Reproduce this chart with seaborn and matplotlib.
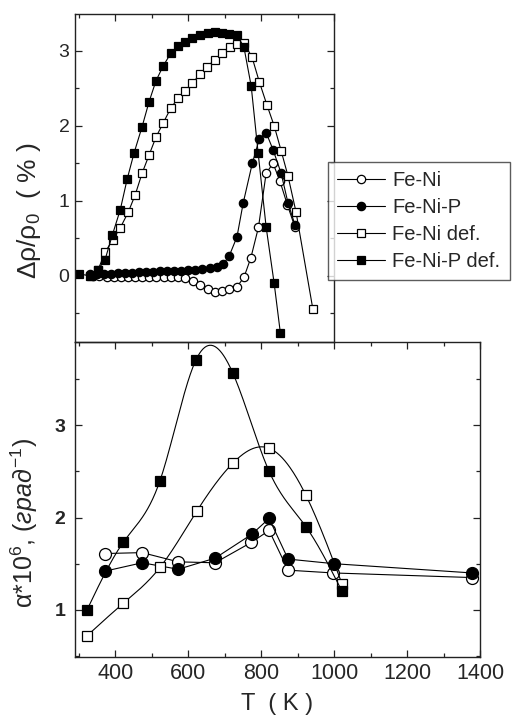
import numpy as np
import matplotlib
matplotlib.use("Agg")
import matplotlib.pyplot as plt
from matplotlib.ticker import MultipleLocator
import seaborn as sns

# --- top panel: resistivity change, % ---
t_feni_top = [338, 357, 377, 396, 416, 435, 455, 474, 494, 513, 533, 552, 572, 592, 613,
              633, 654, 674, 694, 713, 733, 753, 772, 793, 814, 833, 852, 872, 893]
r_feni_top = [0.0, 0.0, -0.01, -0.01, -0.01, -0.01, -0.01, -0.01, -0.01, -0.01, -0.01, -0.01,
              -0.02, -0.03, -0.07, -0.12, -0.17, -0.21, -0.2, -0.17, -0.15, -0.02, 0.24, 0.65,
              1.37, 1.5, 1.26, 0.95, 0.65]

t_fenip_top = [330, 349, 369, 388, 407, 427, 446, 465, 485, 504, 523, 543, 562, 581, 601,
               620, 639, 659, 678, 697, 713, 734, 751, 776, 795, 814, 833, 855, 874, 893]
r_fenip_top = [0.02, 0.03, 0.03, 0.03, 0.04, 0.04, 0.04, 0.05, 0.05, 0.05, 0.06, 0.06, 0.07,
               0.07, 0.08, 0.08, 0.09, 0.1, 0.12, 0.16, 0.27, 0.52, 0.97, 1.5, 1.82, 1.91,
               1.68, 1.37, 0.97, 0.68]

t_fenidef_top = [334, 353, 373, 393, 414, 436, 455, 474, 493, 512, 532, 553, 573, 592, 612,
                 633, 652, 674, 693, 715, 734, 753, 775, 795, 816, 836, 855, 874, 896, 942]
r_fenidef_top = [0.0, 0.08, 0.32, 0.48, 0.64, 0.85, 1.08, 1.37, 1.61, 1.85, 2.04, 2.24, 2.37,
                 2.47, 2.57, 2.69, 2.79, 2.88, 2.97, 3.05, 3.09, 3.1, 2.92, 2.59, 2.28, 2.0,
                 1.67, 1.33, 0.85, -0.44]

t_fenipdef_top = [300, 331, 352, 372, 392, 414, 433, 452, 474, 493, 512, 532, 553, 573, 592,
                  612, 633, 655, 674, 693, 712, 734, 753, 773, 792, 814, 836, 853]
r_fenipdef_top = [0.03, 0.0, 0.08, 0.21, 0.54, 0.88, 1.29, 1.64, 1.99, 2.32, 2.6, 2.8, 2.97,
                  3.07, 3.12, 3.17, 3.21, 3.24, 3.25, 3.24, 3.23, 3.21, 3.05, 2.53, 1.64, 0.65,
                  -0.1, -0.76]

# --- bottom panel: alpha * 10^6 ---
t_feni_bot = [373, 474, 573, 674, 773, 822, 874, 997, 1378]
a_feni_bot = [1.61, 1.62, 1.52, 1.51, 1.73, 1.86, 1.43, 1.4, 1.35]

t_fenip_bot = [373, 474, 573, 674, 775, 822, 874, 1000, 1378]
a_fenip_bot = [1.42, 1.51, 1.44, 1.56, 1.82, 1.99, 1.55, 1.5, 1.4]

t_fenidef_bot = [323, 422, 523, 624, 723, 822, 923, 1022]
a_fenidef_bot = [0.72, 1.07, 1.46, 2.07, 2.59, 2.75, 2.24, 1.28]

t_fenipdef_bot = [323, 422, 523, 622, 723, 822, 923, 1022]
a_fenipdef_bot = [1.0, 1.73, 2.4, 3.71, 3.56, 2.5, 1.9, 1.2]

labels = ["Fe-Ni", "Fe-Ni-P", "Fe-Ni def.", "Fe-Ni-P def."]

sns.set_theme(style="ticks")
plt.rcParams["font.family"] = ["Liberation Sans", "DejaVu Sans"]
plt.rcParams["mathtext.fontset"] = "custom"
plt.rcParams["mathtext.rm"] = "Liberation Sans"
plt.rcParams["mathtext.it"] = "Liberation Sans:italic"
plt.rcParams["mathtext.bf"] = "Liberation Sans:bold"


def spline(x, y, n=300):
    # natural cubic spline, only used for the smooth connecting line
    x = np.asarray(x, float)
    y = np.asarray(y, float)
    h = np.diff(x)
    m = len(x)
    A = np.zeros((m, m))
    b = np.zeros(m)
    A[0, 0] = A[-1, -1] = 1
    for i in range(1, m - 1):
        A[i, i - 1] = h[i - 1]
        A[i, i] = 2 * (h[i - 1] + h[i])
        A[i, i + 1] = h[i]
        b[i] = 3 * ((y[i + 1] - y[i]) / h[i] - (y[i] - y[i - 1]) / h[i - 1])
    c = np.linalg.solve(A, b)
    bc = (y[1:] - y[:-1]) / h - h * (2 * c[:-1] + c[1:]) / 3
    d = (c[1:] - c[:-1]) / (3 * h)
    xs = np.linspace(x[0], x[-1], n)
    idx = np.clip(np.searchsorted(x, xs) - 1, 0, m - 2)
    dx = xs - x[idx]
    ys = y[idx] + bc[idx] * dx + c[idx] * dx ** 2 + d[idx] * dx ** 3
    return xs, ys


W, H = 513, 728
fig = plt.figure(figsize=(W / 100, H / 100), dpi=100)
ax_b = fig.add_axes([75 / W, 1 - 657 / H, 405 / W, 315 / H])
ax_t = fig.add_axes([75 / W, 1 - 342 / H, 259 / W, 328 / H])

styles = [("o", "white"), ("o", "black"), ("s", "white"), ("s", "black")]
lw = 0.8

# top panel
top_data = [(t_feni_top, r_feni_top), (t_fenip_top, r_fenip_top),
            (t_fenidef_top, r_fenidef_top), (t_fenipdef_top, r_fenipdef_top)]
for (tx, ry), (mk, fc), lab in zip(top_data, styles, labels):
    ms = 6.0 if mk == "o" else 5.6
    sns.lineplot(x=tx, y=ry, ax=ax_t, color="black", lw=lw, marker=mk, markersize=ms,
                 markerfacecolor=fc, markeredgecolor="black", markeredgewidth=0.9,
                 sort=False, estimator=None, label=lab)

# bottom panel
bot_data = [(t_feni_bot, a_feni_bot), (t_fenip_bot, a_fenip_bot),
            (t_fenidef_bot, a_fenidef_bot), (t_fenipdef_bot, a_fenipdef_bot)]
for i, ((tx, ay), (mk, fc)) in enumerate(zip(bot_data, styles)):
    ms = 8.6 if mk == "o" else 7.6
    if i >= 2:
        xs, ys = spline(tx, ay)
        sns.lineplot(x=xs, y=ys, ax=ax_b, color="black", lw=lw, sort=False, estimator=None)
        sns.lineplot(x=tx, y=ay, ax=ax_b, color="black", linestyle="none", marker=mk,
                     markersize=ms, markerfacecolor=fc, markeredgecolor="black",
                     markeredgewidth=0.9, sort=False, estimator=None)
    else:
        sns.lineplot(x=tx, y=ay, ax=ax_b, color="black", lw=lw, marker=mk, markersize=ms,
                     markerfacecolor=fc, markeredgecolor="black", markeredgewidth=0.9,
                     sort=False, estimator=None)

# axes styling
for ax in (ax_t, ax_b):
    for s in ax.spines.values():
        s.set_linewidth(1.0)
        s.set_color("#222222")
    ax.tick_params(which="both", direction="in", color="#222222", width=0.9)
    ax.tick_params(which="major", length=5)
    ax.tick_params(which="minor", length=3)
    ax.xaxis.set_major_locator(MultipleLocator(200))
    ax.xaxis.set_minor_locator(MultipleLocator(100))
    ax.yaxis.set_minor_locator(MultipleLocator(0.5))
    ax.set_facecolor("none")

ax_t.set_xlim(290, 1000)
ax_t.set_ylim(-0.88, 3.49)
ax_t.yaxis.set_major_locator(MultipleLocator(1))
ax_t.tick_params(which="both", top=True, right=True, bottom=False, labelbottom=False)
ax_t.tick_params(axis="y", labelsize=14, pad=4)
ax_t.set_xlabel("")
ax_t.set_ylabel("Δρ/ρ$_0$  ( % )", fontsize=19)
ax_t.yaxis.set_label_coords(-0.125, 0.40)
ax_t.legend_.remove()

ax_b.set_xlim(290, 1400)
ax_b.set_ylim(0.49, 3.9)
ax_b.yaxis.set_major_locator(MultipleLocator(1))
ax_b.tick_params(which="both", top=True, right=True)
ax_b.tick_params(axis="x", labelsize=15.5, pad=4)
ax_b.tick_params(axis="y", labelsize=14, pad=7)
for t in ax_b.get_yticklabels():
    t.set_fontweight("bold")
ax_b.set_xlabel("T  ( K )", fontsize=17, labelpad=7)
ax_b.set_ylabel(r"α*10$^6$, ($\mathit{град}^{-1}$)", fontsize=18)
ax_b.yaxis.set_label_coords(-0.086, 0.425)

handles, labs = ax_t.get_legend_handles_labels()
leg = fig.legend(handles, labs, loc="upper left", bbox_to_anchor=(328 / W, 1 - 162 / H),
                 bbox_transform=fig.transFigure, fontsize=14.5, frameon=True, fancybox=False,
                 handlelength=2.4, handletextpad=0.35, labelspacing=0.4, borderpad=0.45,
                 borderaxespad=0)
leg.get_frame().set_edgecolor("#333333")
leg.get_frame().set_linewidth(1.0)
leg.set_zorder(10)

fig.savefig("out.png", dpi=100)
